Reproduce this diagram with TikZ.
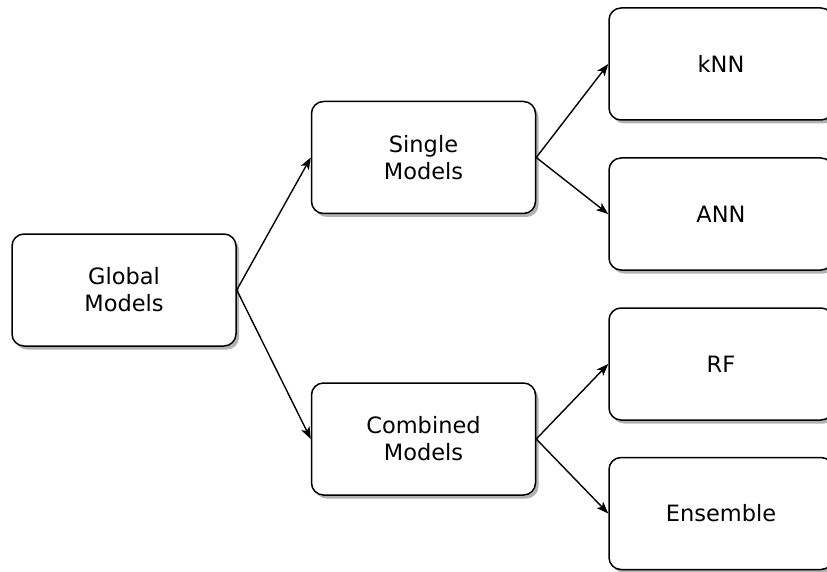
\documentclass[tikz,border=0pt]{standalone}
\usepackage{fontspec}
\setmainfont{DejaVu Sans}
\usetikzlibrary{arrows.meta,shadows}
\begin{document}
\begin{tikzpicture}[x=1pt,y=-1pt,
  box/.style={draw=black, line width=1.5pt, rounded corners=12pt, fill=white,
    minimum width=224pt, minimum height=112pt, inner sep=0pt, align=center,
    font=\fontsize{22.5}{27}\selectfont,
    drop shadow={shadow xshift=3pt, shadow yshift=-3.5pt, fill=black, opacity=0.3}},
  link/.style={draw=black, line width=1.4pt, -{Stealth[length=12pt,width=9pt,inset=3pt]}}]
  \useasboundingbox (0,0) rectangle (827,572);
  \clip (0,0) rectangle (827,572);
  % root
  \node[box] (global) at (124,290) {Global\\Models};
  % second level
  \node[box] (single) at (423.5,157.5) {Single\\Models};
  \node[box] (combined) at (423.5,439) {Combined\\Models};
  % leaves
  \node[box] (knn) at (721,64) {kNN};
  \node[box] (ann) at (721,214) {ANN};
  \node[box] (rf) at (721,364) {RF};
  \node[box] (ens) at (721,513.5) {Ensemble};
  % connectors
  \draw[link] (global.east) -- (single.west);
  \draw[link] (global.east) -- (combined.west);
  \draw[link] (single.east) -- (knn.west);
  \draw[link] (single.east) -- (ann.west);
  \draw[link] (combined.east) -- (rf.west);
  \draw[link] (combined.east) -- (ens.west);
\end{tikzpicture}
\end{document}
